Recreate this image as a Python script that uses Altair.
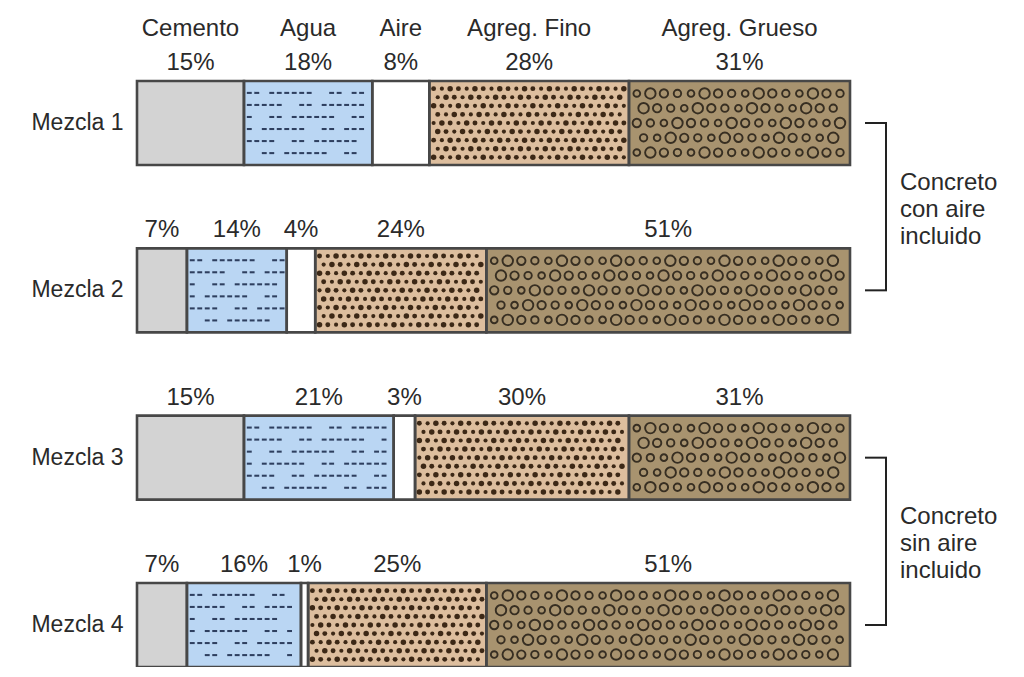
import altair as alt
import pandas as pd

# ---------------- data ----------------
mixes = ["Mezcla 1", "Mezcla 2", "Mezcla 3", "Mezcla 4"]
components = ["Cemento", "Agua", "Aire", "Agreg. Fino", "Agreg. Grueso"]
pct_mezcla1 = [15, 18, 8, 28, 31]
pct_mezcla2 = [7, 14, 4, 24, 51]
pct_mezcla3 = [15, 21, 3, 30, 31]
pct_mezcla4 = [7, 16, 1, 25, 51]
group_labels = ["Concreto\ncon aire\nincluido", "Concreto\nsin aire\nincluido"]
group_top = ["Mezcla 1", "Mezcla 3"]
group_bottom = ["Mezcla 2", "Mezcla 4"]

# ---------------- styles ----------------
fills = ["#d3d3d3", "#bad6f3", "#ffffff", "#ddbe9e", "#a8936f"]
FONT = "Liberation Sans"
TXT = "#2a2a2a"
FS = 24

W, H = 713, 586
P_INNER = 0.498
STEP = H / (len(mixes) - P_INNER)
BW = STEP * (1 - P_INNER)

rows = []
for mix, pcts in zip(mixes, [pct_mezcla1, pct_mezcla2, pct_mezcla3, pct_mezcla4]):
    cum = 0
    for comp, p in zip(components, pcts):
        rows.append(dict(mix=mix, comp=comp, pct=p, start=cum, end=cum + p,
                         mid=cum + p / 2, label=f"{p}%"))
        cum += p
seg = pd.DataFrame(rows)

# ---------------- decorative fill textures (regular pattern grids inside segments) ----------------
WATER_ROWS, FINE_ROWS, COARSE_ROWS = 6, 9, 5
water, fine, coarse = [], [], []
for r in seg.itertuples():
    if r.comp == "Agua":
        for k in range(WATER_ROWS):
            i, x = 0, r.start + 0.75
            while x < r.end - 0.6:
                if (i * 4 + k * 5) % 11 not in (3, 7, 8):
                    water.append(dict(mix=r.mix, x=x, k=k))
                x += 1.05
                i += 1
    elif r.comp == "Agreg. Fino":
        for k in range(FINE_ROWS):
            x = r.start + 0.6 + (0.58 if k % 2 else 0)
            i = 0
            while x < r.end - 0.45:
                fine.append(dict(mix=r.mix, x=x, k=k, s=[24, 17, 30][(i + k) % 3]))
                x += 1.16
                i += 1
    elif r.comp == "Agreg. Grueso":
        for k in range(COARSE_ROWS):
            x = r.start + 1.1 + (0.95 if k % 2 else 0)
            i = 0
            while x < r.end - 0.9:
                coarse.append(dict(mix=r.mix, x=x, k=k, s=[45, 110, 70, 55][(i + k) % 4]))
                x += 1.9
                i += 1
water = pd.DataFrame(water)
fine = pd.DataFrame(fine)
coarse = pd.DataFrame(coarse)

brk = pd.DataFrame(dict(top=group_top, bottom=group_bottom, label=group_labels))
mixdf = pd.DataFrame(dict(mix=mixes))

# ---------------- scales / encodings ----------------
xscale = alt.Scale(domain=[0, 100], nice=False, zero=False)
yscale = alt.Scale(domain=mixes, paddingInner=P_INNER, paddingOuter=0)
yaxis = alt.Axis(title=None, domain=False, ticks=False, labelFontSize=23, labelFont=FONT,
                 labelColor=TXT, labelPadding=14)


def ycenter(field="mix"):
    return alt.Y(f"{field}:N", scale=yscale, axis=yaxis)


bars = alt.Chart(seg).mark_bar(strokeWidth=0).encode(
    x=alt.X("start:Q", scale=xscale, axis=None),
    x2="end:Q",
    y=ycenter(),
    color=alt.Color("comp:N", scale=alt.Scale(domain=components, range=fills), legend=None),
)

layers = [bars]


def tex_rows(df, nrows, mark_kwargs, with_size, spread):
    out = []
    for k in range(nrows):
        off = ((k + 0.5) / nrows - 0.5) * BW * spread
        enc = dict(x=alt.X("x:Q", scale=xscale, axis=None), y=ycenter())
        if with_size:
            enc["size"] = alt.Size("s:Q", scale=None, legend=None)
        out.append(
            alt.Chart(df).transform_filter(f"datum.k == {k}")
            .mark_point(yOffset=off, **mark_kwargs).encode(**enc)
        )
    return out


layers += tex_rows(water, WATER_ROWS,
                   dict(shape="M-1,-0.42H1V0.42H-1Z", filled=True, color="#1f2f4f",
                        opacity=0.9, size=24), False, 0.86)
layers += tex_rows(fine, FINE_ROWS,
                   dict(filled=True, color="#33200f", opacity=0.95), True, 0.92)
layers += tex_rows(coarse, COARSE_ROWS,
                   dict(filled=False, color="#2b241a", strokeWidth=1.9, opacity=0.9), True, 0.88)

outline = alt.Chart(seg).mark_bar(fillOpacity=0, stroke="#474747", strokeWidth=2.6).encode(
    x=alt.X("start:Q", scale=xscale, axis=None),
    x2="end:Q",
    y=ycenter(),
)

pct_text = alt.Chart(seg).mark_text(
    font=FONT, fontSize=FS, color=TXT, baseline="alphabetic", dy=-11
).encode(
    x=alt.X("mid:Q", scale=xscale, axis=None),
    y=alt.Y("mix:N", scale=yscale, axis=yaxis, bandPosition=0),
    text="label:N",
)

head_text = alt.Chart(seg[seg["mix"] == mixes[0]]).mark_text(
    font=FONT, fontSize=FS, color=TXT, baseline="alphabetic", dy=-45
).encode(
    x=alt.X("mid:Q", scale=xscale, axis=None),
    y=alt.Y("mix:N", scale=yscale, axis=yaxis, bandPosition=0),
    text="comp:N",
)

brk_v = alt.Chart(brk).mark_rule(color="#222222", strokeWidth=2).encode(
    x=alt.value(749),
    y=ycenter("top"),
    y2="bottom:N",
)

brk_h = alt.Chart(mixdf).mark_rule(color="#222222", strokeWidth=2).encode(
    x=alt.value(728), x2=alt.value(750),
    y=ycenter(),
)

brk_text = alt.Chart(brk).mark_text(
    font=FONT, fontSize=FS, color=TXT, align="left", baseline="middle",
    lineBreak="\n", lineHeight=27, dy=STEP / 2 - 24,
).encode(
    x=alt.value(763),
    y=ycenter("top"),
    text="label:N",
)

layers += [outline, pct_text, head_text, brk_v, brk_h, brk_text]

chart = alt.layer(*layers).properties(
    width=W, height=H,
    autosize=alt.AutoSizeParams(type="none"),
    padding={"left": 129, "top": 73, "right": 166, "bottom": 0},
).configure_view(stroke=None)

chart.save("out.html", embed_options={"renderer": "svg", "actions": False})
